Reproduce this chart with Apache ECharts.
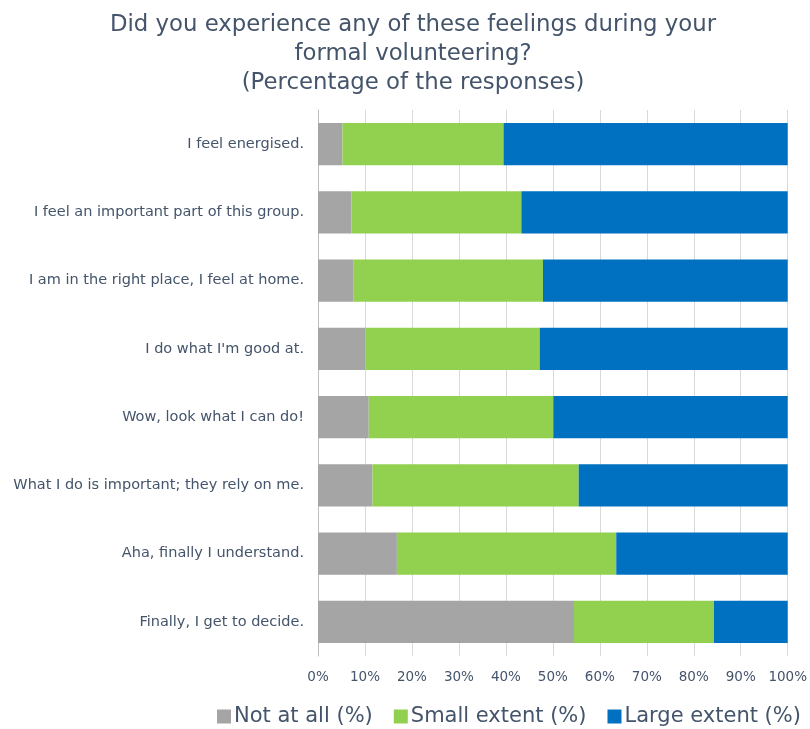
<!DOCTYPE html>
<html>
<head>
<meta charset="utf-8">
<script src="https://cdn.jsdelivr.net/npm/echarts@6/dist/echarts.min.js"></script>
<style>html,body{margin:0;padding:0;background:#fff}#c{width:810px;height:729px}</style>
</head>
<body>
<div id="c"></div>
<script>
const categories = [
  "I feel energised.",
  "I feel an important part of this group.",
  "I am in the right place, I feel at home.",
  "I do what I'm good at.",
  "Wow, look what I can do!",
  "What I do is important; they rely on me.",
  "Aha, finally I understand.",
  "Finally, I get to decide."
];
const notAtAll = [5.2, 7.1, 7.5, 10.1, 10.8, 11.6, 16.8, 54.5];
const smallExtent = [34.3, 36.2, 40.4, 37.1, 39.3, 43.9, 46.7, 29.8];
const largeExtent = [60.5, 56.7, 52.1, 52.8, 49.9, 44.5, 36.5, 15.7];
const seriesNames = ["Not at all (%)", "Small extent (%)", "Large extent (%)"];
const titleText = "Did you experience any of these feelings during your\nformal volunteering?\n(Percentage of the responses)";

const FONT = "DejaVu Sans";
const TXT = "#44546A";
const chart = echarts.init(document.getElementById('c'));
const mk = (name, data, color) => ({
  name, type: 'bar', stack: 'total', data,
  barCategoryGap: '38%',
  itemStyle: { color },
  emphasis: { disabled: true }
});
chart.setOption({
  animation: false,
  textStyle: { fontFamily: FONT },
  title: {
    text: titleText, left: 413, top: 11, padding: 0, textAlign: 'center',
    textStyle: { fontFamily: FONT, fontSize: 22.8, fontWeight: 'normal', color: TXT, lineHeight: 29 }
  },
  legend: {
    bottom: -3, left: 212, itemWidth: 14, itemHeight: 14, itemGap: 21,
    icon: 'rect',
    textStyle: { fontFamily: FONT, fontSize: 21, color: TXT, padding: [0,0,0,-2] },
    data: seriesNames
  },
  grid: { left: 318, right: 19, top: 110, bottom: 73, containLabel: false },
  xAxis: {
    type: 'value', min: 0, max: 100, interval: 10,
    axisLabel: { formatter: '{value}%', color: TXT, fontSize: 13.5, fontFamily: FONT, margin: 14 },
    splitLine: { show: true, lineStyle: { color: '#D9D9D9', width: 1 } },
    axisLine: { show: false }, axisTick: { show: false }
  },
  yAxis: {
    type: 'category', data: categories, inverse: true,
    axisLabel: { color: TXT, fontSize: 14.5, fontFamily: FONT, margin: 14 },
    axisLine: { show: true, lineStyle: { color: '#BFBFBF', width: 1 } },
    axisTick: { show: false }
  },
  series: [
    mk(seriesNames[0], notAtAll, '#A5A5A5'),
    mk(seriesNames[1], smallExtent, '#92D050'),
    mk(seriesNames[2], largeExtent, '#0070C0')
  ]
});
</script>
</body>
</html>
